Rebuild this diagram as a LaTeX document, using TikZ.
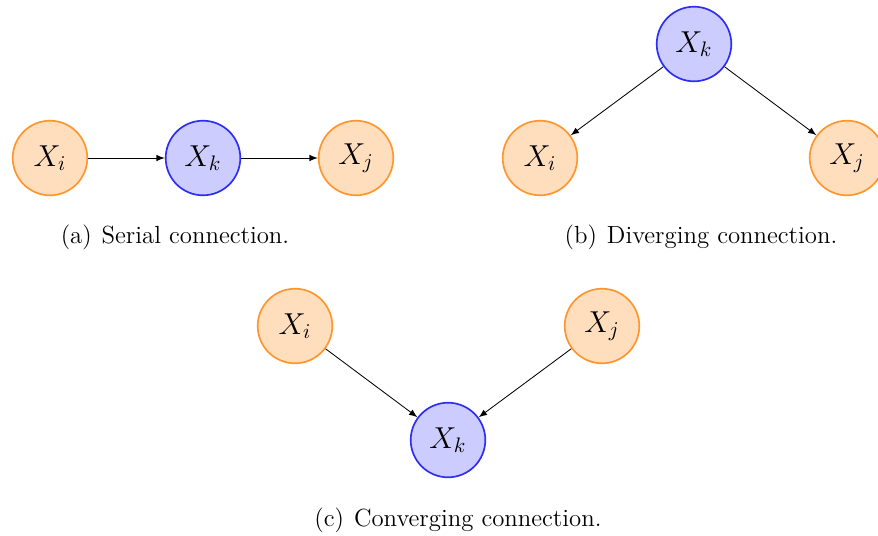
\documentclass[tikz,border=0pt]{standalone}
\usetikzlibrary{arrows}
\definecolor{orfill}{RGB}{255,222,190}
\definecolor{ordraw}{RGB}{255,150,45}
\definecolor{blfill}{RGB}{204,204,255}
\definecolor{bldraw}{RGB}{45,45,245}
\begin{document}
\begin{tikzpicture}[x=0.476pt,y=-0.476pt,
  onode/.style={circle,draw=ordraw,fill=orfill,line width=0.8pt,minimum size=35.5pt,inner sep=0pt,font=\Large},
  bnode/.style={circle,draw=bldraw,fill=blfill,line width=0.8pt,minimum size=35.5pt,inner sep=0pt,font=\Large},
  conn/.style={-latex,line width=0.4pt},
  captext/.style={inner sep=0pt,font=\fontsize{11.8}{14}\selectfont}]
\useasboundingbox (0,0) rectangle (878,535);
% (a)
\node[onode] (ai) at (50,158) {$X_i$};
\node[bnode] (ak) at (203,158) {$X_k$};
\node[onode] (aj) at (356,158) {$X_j$};
\draw[conn] (ai) -- (ak);
\draw[conn] (ak) -- (aj);
\node[captext] (capa) at (175,237) {(a)\hspace{0.4em}Serial connection.};
% (b)
\node[bnode] (bk) at (694,44) {$X_k$};
\node[onode] (bi) at (540,158) {$X_i$};
\node[onode] (bj) at (847,158) {$X_j$};
\draw[conn] (bk) -- (bi);
\draw[conn] (bk) -- (bj);
\node[captext] (capb) at (701,237) {(b)\hspace{0.4em}Diverging connection.};
% (c)
\node[onode] (ci) at (295,326) {$X_i$};
\node[onode] (cj) at (602,326) {$X_j$};
\node[bnode] (ck) at (448,440) {$X_k$};
\draw[conn] (ci) -- (ck);
\draw[conn] (cj) -- (ck);
\node[captext] (capc) at (458,520) {(c)\hspace{0.4em}Converging connection.};
\end{tikzpicture}
\end{document}
